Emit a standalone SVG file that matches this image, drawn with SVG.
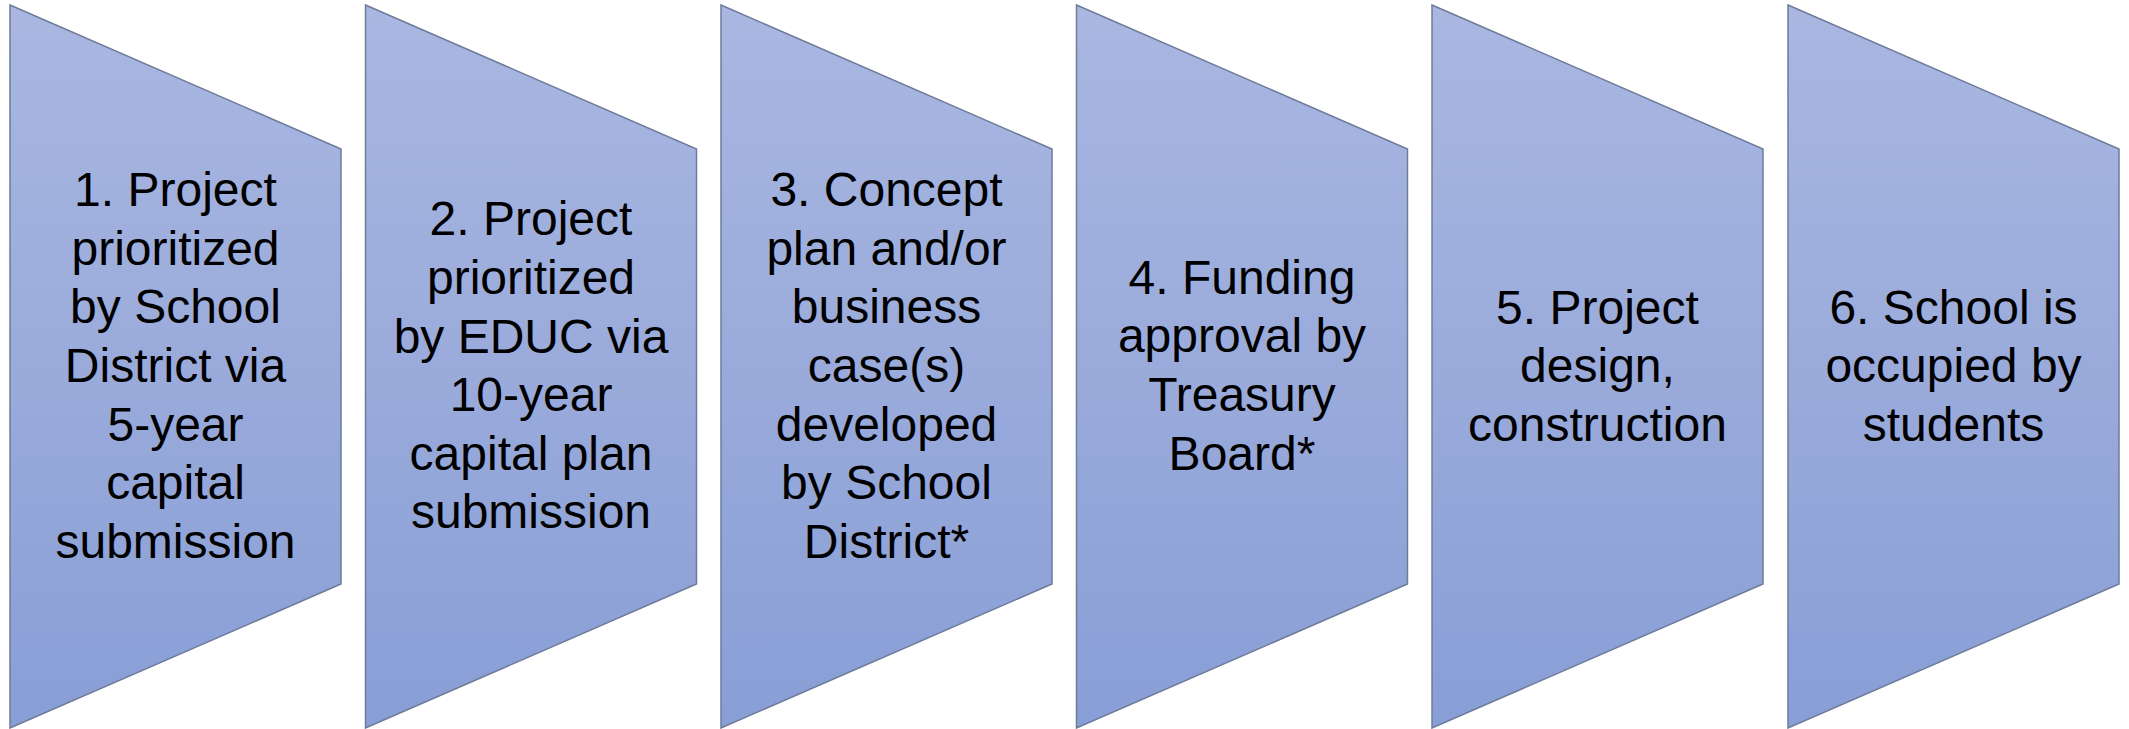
<svg xmlns="http://www.w3.org/2000/svg" width="2129" height="729" viewBox="0 0 2129 729">
<style>
.shape{stroke:#6E7B99;stroke-width:1.5;fill:url(#g)}
.lbl{font-family:"Liberation Sans",Arial,sans-serif;font-size:48px;fill:#000;text-anchor:middle}
</style>
<defs>
<linearGradient id="g" x1="0" y1="0" x2="0" y2="1">
<stop offset="0" stop-color="#A9B7E1"/>
<stop offset="0.5" stop-color="#9AABDB"/>
<stop offset="1" stop-color="#889ED6"/>
</linearGradient>
<path id="p" d="M0,5 L331,149 L331,584 L0,728 Z"/>
</defs>
<rect width="2129" height="729" fill="#fff"/>
<g id="node1" transform="translate(10,0)">
<use href="#p" class="shape"/>
<text class="lbl" x="165.5"><tspan x="165.5" y="206">1. Project</tspan><tspan x="165.5" y="265">prioritized</tspan><tspan x="165.5" y="323">by School</tspan><tspan x="165.5" y="382">District via</tspan><tspan x="165.5" y="441">5-year</tspan><tspan x="165.5" y="499">capital</tspan><tspan x="165.5" y="558">submission</tspan></text>
</g>
<g id="node2" transform="translate(365.5,0)">
<use href="#p" class="shape"/>
<text class="lbl"><tspan x="165.5" y="235">2. Project</tspan><tspan x="165.5" y="294">prioritized</tspan><tspan x="165.5" y="353">by EDUC via</tspan><tspan x="165.5" y="411">10-year</tspan><tspan x="165.5" y="470">capital plan</tspan><tspan x="165.5" y="528">submission</tspan></text>
</g>
<g id="node3" transform="translate(721,0)">
<use href="#p" class="shape"/>
<text class="lbl"><tspan x="165.5" y="206">3. Concept</tspan><tspan x="165.5" y="265">plan and/or</tspan><tspan x="165.5" y="323">business</tspan><tspan x="165.5" y="382">case(s)</tspan><tspan x="165.5" y="441">developed</tspan><tspan x="165.5" y="499">by School</tspan><tspan x="165.5" y="558">District*</tspan></text>
</g>
<g id="node4" transform="translate(1076.5,0)">
<use href="#p" class="shape"/>
<text class="lbl"><tspan x="165.5" y="294">4. Funding</tspan><tspan x="165.5" y="352">approval by</tspan><tspan x="165.5" y="411">Treasury</tspan><tspan x="165.5" y="470">Board*</tspan></text>
</g>
<g id="node5" transform="translate(1432,0)">
<use href="#p" class="shape"/>
<text class="lbl"><tspan x="165.5" y="324">5. Project</tspan><tspan x="165.5" y="382">design,</tspan><tspan x="165.5" y="441">construction</tspan></text>
</g>
<g id="node6" transform="translate(1788,0)">
<use href="#p" class="shape"/>
<text class="lbl"><tspan x="165.5" y="324">6. School is</tspan><tspan x="165.5" y="382">occupied by</tspan><tspan x="165.5" y="441">students</tspan></text>
</g>
<g id="connectors"></g>
</svg>
